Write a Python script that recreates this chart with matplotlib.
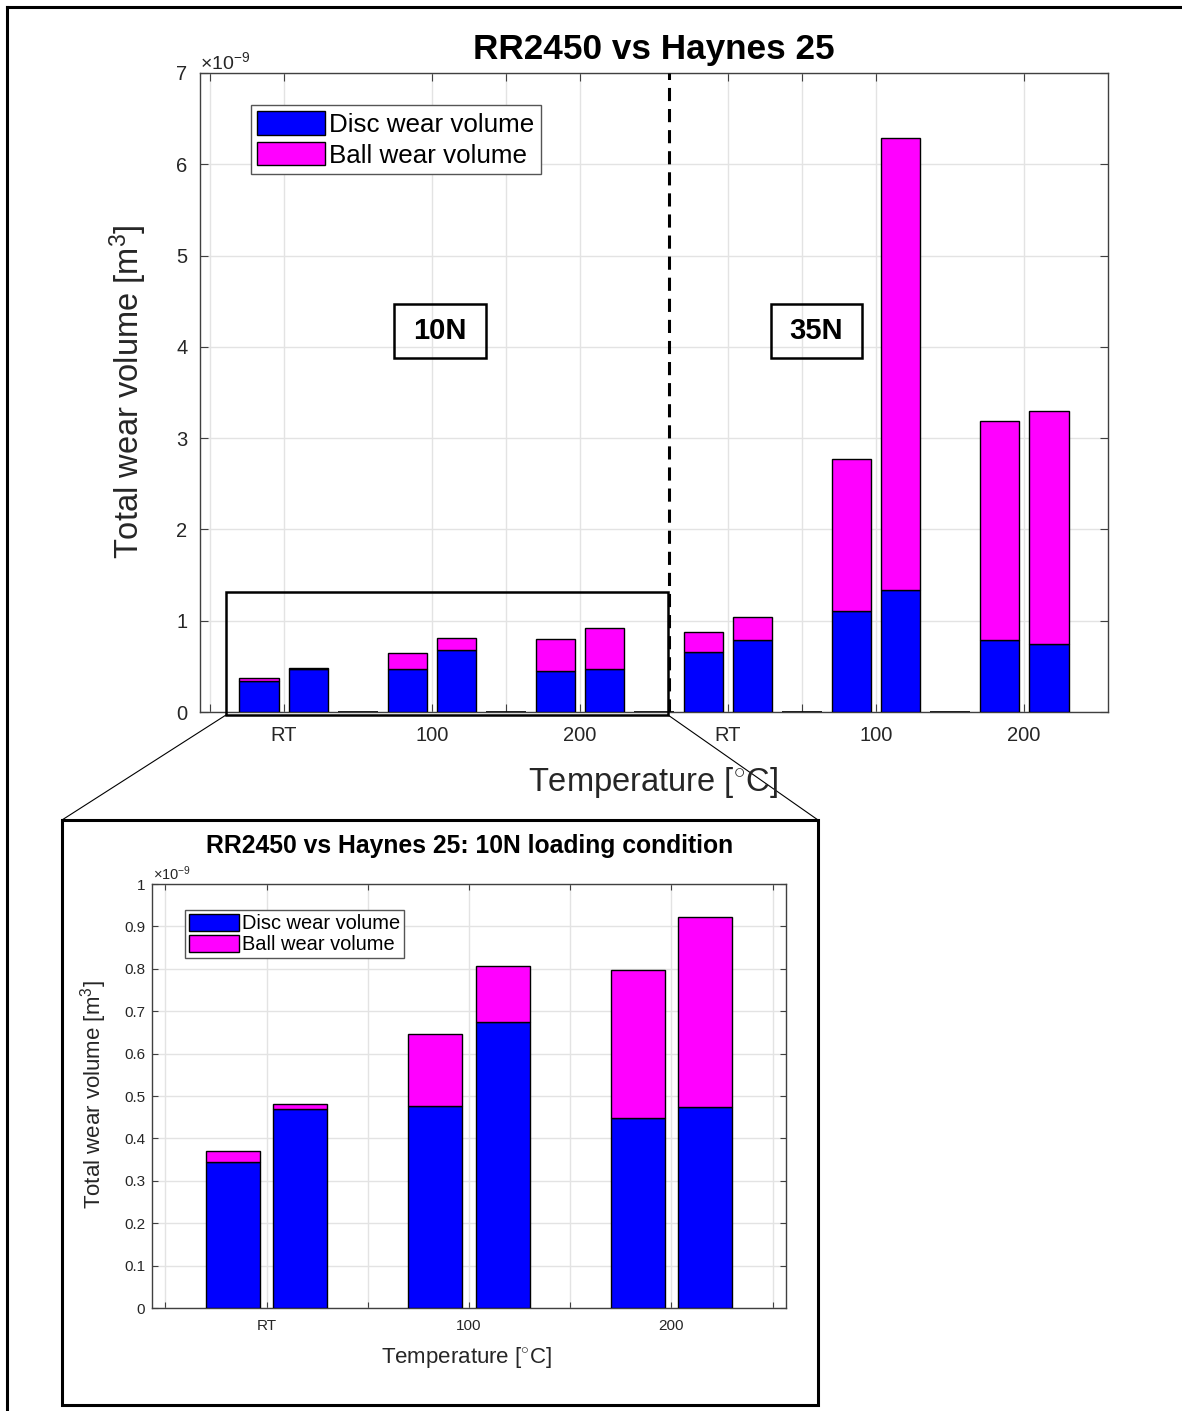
import numpy as np
import matplotlib
matplotlib.use("Agg")
import matplotlib.pyplot as plt
from matplotlib.lines import Line2D
from matplotlib.patches import Rectangle, Patch

plt.rcParams['font.family'] = ['Liberation Sans', 'DejaVu Sans']
plt.rcParams['mathtext.fontset'] = 'custom'
plt.rcParams['mathtext.rm'] = 'Liberation Sans'
plt.rcParams['mathtext.it'] = 'Liberation Sans'

# ---------------- data (units of 1e-9 m^3) ----------------
temps = ['RT', '100', '200']
# two tests per temperature, 10N load
disc_10N = [0.344, 0.469, 0.476, 0.675, 0.448, 0.474]
ball_10N = [0.026, 0.012, 0.170, 0.132, 0.349, 0.448]
# 35N load
disc_35N = [0.655, 0.785, 1.105, 1.340, 0.788, 0.745]
ball_35N = [0.225, 0.260, 1.665, 4.950, 2.400, 2.552]

title_main = 'RR2450 vs Haynes 25'
title_inset = 'RR2450 vs Haynes 25: 10N loading condition'
ylab = r'Total wear volume [m$^{3}$]'
xlab = r'Temperature [$^{\circ}$C]'
leg_labels = ['Disc wear volume', 'Ball wear volume']

BLUE = '#0000ff'
MAG = '#ff00ff'
AX_C = '#404040'
TXT_C = '#262626'
GRID_C = '#e3e3e3'

W, H = 1182, 1411
fig = plt.figure(figsize=(W / 100, H / 100), dpi=100)


def fx(px):
    return px / W


def fy(py):
    return 1 - py / H


def fig_line(xs, ys, lw=1.0, color='black', **kw):
    fig.add_artist(Line2D([fx(x) for x in xs], [fy(y) for y in ys],
                          transform=fig.transFigure, color=color, lw=lw, **kw))


def fig_rect(x0, y0, x1, y1, lw=1.8):
    fig.add_artist(Rectangle((fx(x0), fy(y1)), fx(x1) - fx(x0), fy(y0) - fy(y1),
                             transform=fig.transFigure, fill=False,
                             edgecolor='black', lw=lw, zorder=10))


def positions(ngroups, start):
    pos = []
    for g in range(ngroups):
        pos += [start + 3 * g, start + 3 * g + 1]
    return np.array(pos, dtype=float)


def style_axes(ax, labelsize, ticklen):
    for s in ax.spines.values():
        s.set_color(AX_C)
        s.set_linewidth(1.0)
    ax.tick_params(direction='in', top=True, right=True, length=ticklen,
                   width=0.8, colors=AX_C, labelcolor=TXT_C, labelsize=labelsize)
    ax.grid(True, color=GRID_C, lw=1.0)
    ax.set_axisbelow(True)


# ---------------- main axes ----------------
ax = fig.add_axes([fx(200), fy(712), fx(1108) - fx(200), fy(73) - fy(712)])
p10 = positions(3, 1)
p35 = positions(3, 10)
pos_all = np.concatenate([p10, p35])
disc_all = np.array(disc_10N + disc_35N)
ball_all = np.array(ball_10N + ball_35N)
spacers = np.array([3, 6, 9, 12, 15], dtype=float)

ax.bar(pos_all, disc_all, width=0.8, color=BLUE, edgecolor='black', lw=1.0, zorder=3)
ax.bar(pos_all, ball_all, bottom=disc_all, width=0.8, color=MAG,
       edgecolor='black', lw=1.0, zorder=3)
ax.bar(spacers, np.zeros_like(spacers), width=0.8, color=BLUE, edgecolor='black', lw=1.2, zorder=3)

ax.set_xlim(-0.2, 18.2)
ax.set_ylim(0, 7)
ax.set_yticks(range(0, 8))
ticks_main = [0, 1.5, 4.5, 6, 7.5, 10.5, 12, 13.5, 16.5]
labels_main = ['', temps[0], temps[1], '', temps[2], temps[0], '', temps[1], temps[2]]
ax.set_xticks(ticks_main)
ax.set_xticklabels(labels_main)
style_axes(ax, 14.5, 6)
ax.tick_params(axis='x', pad=10)
ax.tick_params(axis='y', pad=9)

ax.axvline(9.3, ymin=0, ymax=1, color='black', lw=2.2, linestyle=(0, (4.3, 2.6)), zorder=4)

leg = ax.legend([Patch(facecolor=BLUE, edgecolor='black'), Patch(facecolor=MAG, edgecolor='black')],
                leg_labels, loc='upper left', bbox_to_anchor=(fx(251), fy(105)),
                bbox_transform=fig.transFigure, fontsize=18.7, frameon=True, fancybox=False,
                edgecolor='#555555', framealpha=1, borderpad=0.25, borderaxespad=0,
                handlelength=2.6, handleheight=1.0, handletextpad=0.15, labelspacing=0.2)
leg.get_frame().set_linewidth(1.0)
for t in leg.get_texts():
    t.set_color('black')

# load labels with boxes
for (x0, x1, lab) in [(394, 486, '10N'), (771, 862, '35N')]:
    fig_rect(x0, 304, x1, 358, lw=1.8)
    fig.text(fx((x0 + x1) / 2), fy(331), lab, ha='center', va='center',
             fontsize=21, fontweight='bold', color='black')

fig.text(fx(654), fy(49), title_main, ha='center', va='center', fontsize=25.3,
         fontweight='bold', color='black')
fig.text(fx(128), fy(392), ylab, ha='center', va='center', rotation=90,
         fontsize=23.5, color=TXT_C)
fig.text(fx(653), fy(782), xlab, ha='center', va='center', fontsize=23.5, color=TXT_C)
fig.text(fx(200), fy(62), r'$\times10^{-9}$', ha='left', va='center', fontsize=14, color=TXT_C)

# zoom rectangle and connectors
fig_rect(226, 592, 668, 715, lw=1.8)
fig_line([226, 62], [715, 820], lw=0.8)
fig_line([668, 818], [715, 820], lw=0.8)

# ---------------- inset axes ----------------
ax2 = fig.add_axes([fx(152), fy(1308), fx(786) - fx(152), fy(884) - fy(1308)])
pin = positions(3, 1)
ax2.bar(pin, disc_10N, width=0.8, color=BLUE, edgecolor='black', lw=1.0, zorder=3)
ax2.bar(pin, ball_10N, bottom=disc_10N, width=0.8, color=MAG, edgecolor='black', lw=1.0, zorder=3)
ax2.set_xlim(-0.2, 9.2)
ax2.set_ylim(0, 1)
ax2.set_yticks(np.round(np.arange(0, 1.01, 0.1), 1))
ax2.set_yticklabels(['0'] + ['%.1f' % v for v in np.arange(0.1, 0.95, 0.1)] + ['1'])
ax2.set_xticks([0, 1.5, 3, 4.5, 6, 7.5, 9])
ax2.set_xticklabels(['', temps[0], '', temps[1], '', temps[2], ''])
style_axes(ax2, 11, 4.5)
ax2.tick_params(axis='x', pad=8)
ax2.tick_params(axis='y', pad=5)

leg2 = ax2.legend([Patch(facecolor=BLUE, edgecolor='black'), Patch(facecolor=MAG, edgecolor='black')],
                  leg_labels, loc='upper left', bbox_to_anchor=(fx(185), fy(910)),
                  bbox_transform=fig.transFigure, fontsize=14.4, frameon=True, fancybox=False,
                  edgecolor='#555555', framealpha=1, borderpad=0.2, borderaxespad=0,
                  handlelength=2.5, handleheight=0.9, handletextpad=0.15, labelspacing=0.1)
leg2.get_frame().set_linewidth(1.0)

fig.text(fx(470), fy(846), title_inset, ha='center', va='center', fontsize=17.8,
         fontweight='bold', color='black')
fig.text(fx(94), fy(1095), ylab, ha='center', va='center', rotation=90,
         fontsize=16, color=TXT_C)
fig.text(fx(467), fy(1358), xlab, ha='center', va='center', fontsize=16, color=TXT_C)
fig.text(fx(153), fy(874), r'$\times10^{-9}$', ha='left', va='center', fontsize=10.5, color=TXT_C)

# inset frame and outer frame
fig_rect(62, 820, 818, 1405, lw=2.2)
fig_line([7, W + 5], [7, 7], lw=2.2)
fig_line([7, 7], [7, H + 5], lw=2.2)

fig.savefig('out.png', dpi=100)
